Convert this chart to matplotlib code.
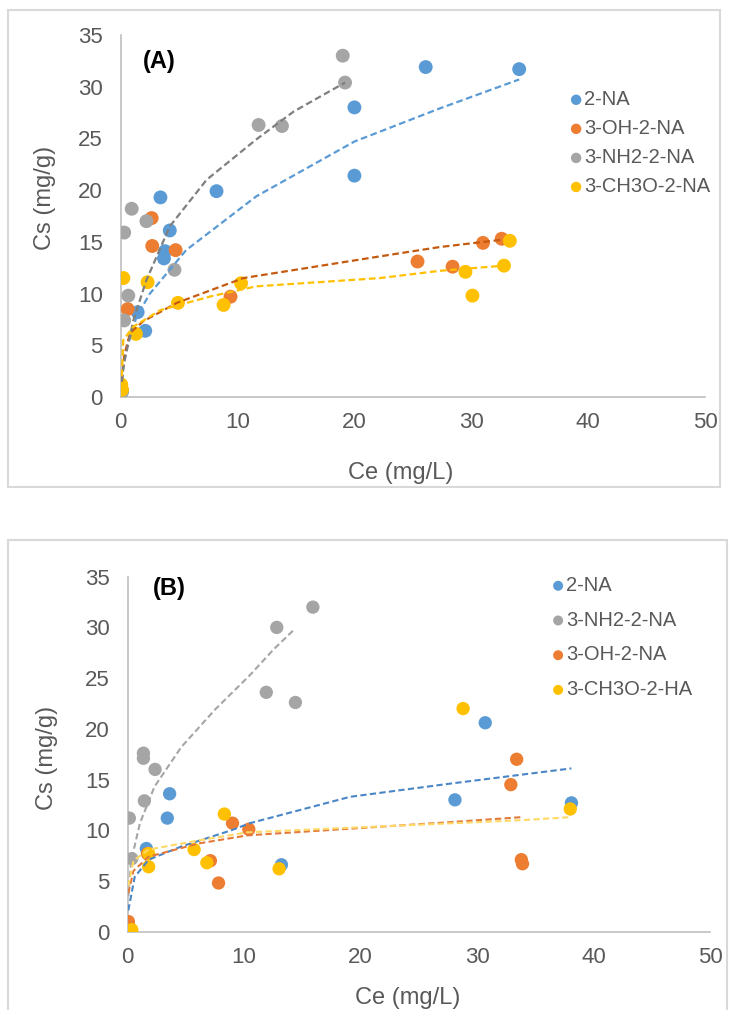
import matplotlib
matplotlib.use('Agg')
import matplotlib.pyplot as plt
from matplotlib.patches import Rectangle

plt.rcParams['font.family'] = ['Liberation Sans', 'DejaVu Sans']

BLUE = '#5B9BD5'
ORANGE = '#ED7D31'
GRAY = '#A5A5A5'
GOLD = '#FFC000'
TXT = '#595959'

# ---- panel (A) data ----
a_blue_x = [0.1, 1.45, 2.1, 3.7, 3.8, 4.2, 3.4, 8.2, 20.0, 20.0, 26.1, 34.1]
a_blue_y = [0.5, 8.2, 6.4, 13.4, 14.1, 16.1, 19.3, 19.9, 21.4, 28.0, 31.9, 31.7]
a_orange_x = [0.1, 0.6, 2.65, 2.7, 4.7, 9.4, 25.4, 28.4, 31.0, 32.6]
a_orange_y = [0.7, 8.5, 17.3, 14.6, 14.2, 9.7, 13.1, 12.6, 14.9, 15.3]
a_gray_x = [0.1, 0.3, 0.65, 0.3, 0.94, 2.2, 4.6, 11.8, 13.8, 19.2, 19.0]
a_gray_y = [0.5, 7.4, 9.8, 15.9, 18.2, 17.0, 12.3, 26.3, 26.2, 30.4, 33.0]
a_gold_x = [0.1, 0.05, 0.23, 1.3, 2.3, 4.9, 8.8, 10.3, 29.5, 30.1, 32.8, 33.3]
a_gold_y = [0.7, 1.2, 11.5, 6.1, 11.1, 9.1, 8.9, 11.0, 12.1, 9.8, 12.7, 15.1]

# trendlines
a_blue_fx = [0.1, 0.37, 1.37, 2.5, 5.6, 11.6, 20.0, 27.3, 34.1]
a_blue_fy = [1.5, 4.2, 7.8, 10.0, 14.2, 19.4, 24.7, 27.9, 30.7]
a_orange_fx = [0.1, 0.3, 0.8, 1.9, 4.8, 10.5, 22.2, 27.3, 32.6]
a_orange_fy = [1.5, 4.0, 6.2, 7.3, 9.1, 11.5, 13.6, 14.5, 15.2]
a_gray_fx = [0.1, 0.22, 1.08, 2.2, 4.2, 7.35, 11.6, 14.8, 19.2]
a_gray_fy = [1.5, 2.9, 7.4, 11.3, 16.5, 21.0, 24.9, 27.6, 30.4]
a_gold_fx = [0.1, 0.22, 1.08, 3.4, 7.6, 11.6, 22.2, 27.3, 32.8]
a_gold_fy = [2.0, 5.5, 6.8, 8.4, 9.7, 10.7, 11.5, 12.2, 12.7]

# ---- panel (B) data ----
b_blue_x = [0.05, 1.6, 3.4, 3.6, 13.2, 28.1, 30.7, 38.1]
b_blue_y = [0.8, 8.2, 11.2, 13.6, 6.6, 13.0, 20.6, 12.7]
b_gray_x = [0.05, 0.35, 0.14, 1.43, 1.35, 1.35, 2.35, 11.9, 14.4, 12.8, 15.9]
b_gray_y = [0.5, 7.2, 11.2, 12.9, 17.1, 17.6, 16.0, 23.6, 22.6, 30.0, 32.0]
b_orange_x = [0.06, 1.7, 7.1, 7.8, 9.0, 10.4, 32.9, 33.4, 33.8, 33.9]
b_orange_y = [1.0, 7.7, 7.0, 4.8, 10.7, 10.1, 14.5, 17.0, 7.1, 6.7]
b_gold_x = [0.35, 1.8, 1.8, 5.7, 6.8, 8.3, 13.0, 28.8, 38.0]
b_gold_y = [0.2, 7.7, 6.4, 8.1, 6.8, 11.6, 6.2, 22.0, 12.1]

b_blue_fx = [0.05, 0.6, 1.8, 4.6, 8.9, 10.5, 19.1, 27.7, 38.1]
b_blue_fy = [2.1, 5.4, 7.1, 8.4, 10.0, 10.7, 13.3, 14.6, 16.1]
b_gray_fx = [0.05, 0.3, 1.05, 2.3, 4.6, 7.5, 10.5, 12.5, 14.3]
b_gray_fy = [3.5, 7.0, 10.7, 14.3, 18.2, 21.9, 25.3, 27.8, 29.8]
b_orange_fx = [0.05, 0.5, 1.8, 6.1, 10.3, 27.7, 33.9]
b_orange_fy = [3.8, 6.0, 7.4, 8.7, 9.5, 10.8, 11.3]
b_gold_fx = [0.05, 0.5, 1.8, 6.1, 10.3, 33.9, 38.1]
b_gold_fy = [4.5, 7.0, 8.1, 9.0, 9.8, 11.0, 11.3]

labels_a = ['2-NA', '3-OH-2-NA', '3-NH2-2-NA', '3-CH3O-2-NA']
labels_b = ['2-NA', '3-NH2-2-NA', '3-OH-2-NA', '3-CH3O-2-HA']

W, H = 733, 1010
fig = plt.figure(figsize=(W / 100, H / 100), dpi=100)

# panel frames
fig.add_artist(Rectangle((8 / W, 1 - 487 / H), 712 / W, 477 / H, transform=fig.transFigure,
                         fill=False, ec='#D9D9D9', lw=1.5))
fig.add_artist(Rectangle((8 / W, -0.05), 719 / W, 1 - 540 / H + 0.05, transform=fig.transFigure,
                         fill=False, ec='#D9D9D9', lw=1.5))


def setup(ax, tag, tagx, tagy, ylab_x, ylab_y, xlab_y):
    ax.set_xlim(0, 50)
    ax.set_ylim(0, 35)
    ax.set_xticks(range(0, 51, 10))
    ax.set_yticks(range(0, 36, 5))
    for s in ['top', 'right']:
        ax.spines[s].set_visible(False)
    for s in ['left', 'bottom']:
        ax.spines[s].set_color('#BFBFBF')
        ax.spines[s].set_linewidth(1.2)
    ax.tick_params(length=0, labelsize=16, labelcolor=TXT, pad=11)
    ax.tick_params(axis='y', pad=13)
    ax.set_xlabel('Ce (mg/L)', fontsize=17, color=TXT)
    ax.set_ylabel('Cs (mg/g)', fontsize=17, color=TXT)
    ax.yaxis.set_label_coords(ylab_x, ylab_y)
    ax.xaxis.set_label_coords(0.48, xlab_y)
    ax.text(tagx, tagy, tag, fontsize=17, fontweight='bold', va='center', ha='left')


# ---- (A) ----
axA = fig.add_axes([120.7 / W, 1 - 397 / H, (705 - 120.7) / W, 362 / H])
setup(axA, '(A)', 1.9, 32.4, -0.11, 0.55, -0.18)
ha = []
for x, y, fx, fy, c, lc, lab in [
        (a_blue_x, a_blue_y, a_blue_fx, a_blue_fy, BLUE, '#5B9BD5', labels_a[0]),
        (a_orange_x, a_orange_y, a_orange_fx, a_orange_fy, ORANGE, '#C55A11', labels_a[1]),
        (a_gray_x, a_gray_y, a_gray_fx, a_gray_fy, GRAY, '#7F7F7F', labels_a[2]),
        (a_gold_x, a_gold_y, a_gold_fx, a_gold_fy, GOLD, '#FFC000', labels_a[3])]:
    h = axA.scatter(x, y, s=100, color=c, edgecolors='none', label=lab, zorder=3)
    axA.plot(fx, fy, ls=(0, (3, 1.6)), color=lc, lw=1.6, zorder=4)
    ha.append(h)
axA.legend(handles=ha, loc='upper left', bbox_to_anchor=(558 / W, 1 - 80 / H),
           bbox_transform=fig.transFigure, frameon=False, fontsize=14.5,
           labelcolor=TXT, markerscale=0.75, handletextpad=0.0, handlelength=0.8,
           labelspacing=0.5, borderpad=0)

# ---- (B) ----
axB = fig.add_axes([127.7 / W, 1 - 931.7 / H, (710 - 127.7) / W, 355 / H])
setup(axB, '(B)', 2.2, 33.8, -0.12, 0.49, -0.155)
hb = []
for x, y, fx, fy, c, lc, lab in [
        (b_blue_x, b_blue_y, b_blue_fx, b_blue_fy, BLUE, '#4A86C5', labels_b[0]),
        (b_gray_x, b_gray_y, b_gray_fx, b_gray_fy, GRAY, '#A5A5A5', labels_b[1]),
        (b_orange_x, b_orange_y, b_orange_fx, b_orange_fy, ORANGE, '#E3793A', labels_b[2]),
        (b_gold_x, b_gold_y, b_gold_fx, b_gold_fy, GOLD, '#FFD966', labels_b[3])]:
    h = axB.scatter(x, y, s=92, color=c, edgecolors='none', label=lab, zorder=3)
    axB.plot(fx, fy, ls=(0, (3, 1.6)), color=lc, lw=1.5, zorder=4)
    hb.append(h)
axB.legend(handles=hb, loc='upper left', bbox_to_anchor=(540 / W, 1 - 566 / H),
           bbox_transform=fig.transFigure, frameon=False, fontsize=14.5,
           labelcolor=TXT, markerscale=0.75, handletextpad=0.0, handlelength=0.8,
           labelspacing=0.78, borderpad=0)

fig.savefig('out.png', dpi=100)
